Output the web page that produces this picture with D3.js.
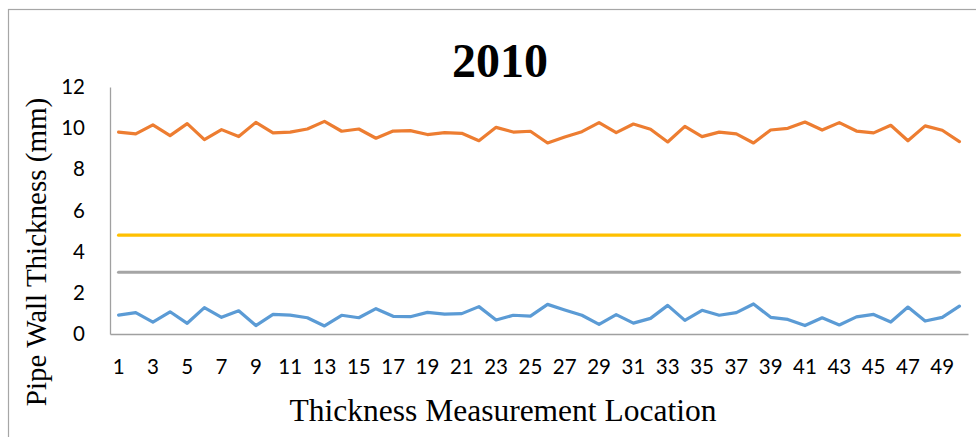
<!DOCTYPE html>
<html>
<head>
<meta charset="utf-8">
<script src="https://cdn.jsdelivr.net/npm/d3@7"></script>
<style>
  body { margin: 0; background: #fff; }
  svg { display: block; }
</style>
</head>
<body>
<svg id="chart"></svg>
<script>
const locations = d3.range(1, 51);
const nominal = [9.81, 9.72, 10.16, 9.64, 10.22, 9.44, 9.93, 9.59, 10.28, 9.77,
                 9.81, 9.96, 10.33, 9.85, 9.96, 9.51, 9.86, 9.88, 9.69, 9.78,
                 9.75, 9.39, 10.04, 9.81, 9.85, 9.28, 9.57, 9.83, 10.27, 9.78,
                 10.2, 9.95, 9.33, 10.09, 9.59, 9.81, 9.72, 9.28, 9.91, 9.99,
                 10.3, 9.91, 10.27, 9.86, 9.77, 10.14, 9.39, 10.11, 9.9, 9.35];
const loss = [0.92, 1.04, 0.58, 1.08, 0.52, 1.28, 0.81, 1.13, 0.41, 0.95,
              0.92, 0.79, 0.39, 0.91, 0.79, 1.23, 0.86, 0.84, 1.05, 0.97,
              0.99, 1.33, 0.68, 0.91, 0.87, 1.44, 1.17, 0.91, 0.47, 0.94,
              0.53, 0.76, 1.39, 0.66, 1.15, 0.91, 1.04, 1.46, 0.81, 0.71,
              0.41, 0.79, 0.44, 0.83, 0.95, 0.58, 1.31, 0.63, 0.81, 1.35];
const minLimit = locations.map(() => 3);
const warnLimit = locations.map(() => 4.8);
const yTicks = [0, 2, 4, 6, 8, 10, 12];

const series = [
  { name: "nominal", values: nominal, color: "#ED7D31" },
  { name: "warn", values: warnLimit, color: "#FFC000" },
  { name: "min", values: minLimit, color: "#A5A5A5" },
  { name: "loss", values: loss, color: "#5B9BD5" }
];

const width = 976, height = 437;
const margin = { left: 110, right: 8, top: 87, bottom: 103 };

const svg = d3.select("#chart").attr("width", width).attr("height", height);

// chart frame (cut off at right/bottom like the source image)
svg.append("rect")
  .attr("x", 8.5).attr("y", 9.5)
  .attr("width", 1000).attr("height", 500)
  .attr("fill", "none").attr("stroke", "#A6A6A6").attr("stroke-width", 1.2);

let x = d3.scaleBand().domain(locations).range([margin.left, width - margin.right]);
let y = d3.scaleLinear().domain([0, 12]).range([height - margin.bottom, margin.top]);

// axes
let xAxis = d3.axisBottom(x).tickSize(0).tickPadding(25)
  .tickFormat(d => d % 2 == 1 ? d : "");
let yAxis = d3.axisLeft(y).tickValues(yTicks).tickSize(0).tickPadding(25);

let gx = svg.append("g").attr("transform", "translate(0," + (height - margin.bottom) + ")").call(xAxis);
let gy = svg.append("g").attr("transform", "translate(" + margin.left + ",0)").call(yAxis);

[gx, gy].forEach(g => {
  g.select(".domain").attr("stroke", "#A0A0A0").attr("stroke-width", 1.3);
  g.selectAll("text").attr("font-family", "Lato, 'Open Sans', sans-serif")
    .attr("font-size", 20.5).attr("fill", "#000");
});

let line = d3.line()
  .x((d, i) => x(locations[i]) + x.bandwidth() / 2)
  .y(d => y(d));

svg.selectAll(".series")
  .data(series)
  .join("path")
  .attr("class", "series")
  .attr("d", d => line(d.values))
  .attr("fill", "none")
  .attr("stroke", d => d.color)
  .attr("stroke-width", 3.2)
  .attr("stroke-linejoin", "round")
  .attr("stroke-linecap", "round");

// titles
svg.append("text")
  .attr("x", 500).attr("y", 77)
  .attr("text-anchor", "middle")
  .attr("font-family", "'Liberation Serif', 'Times New Roman', serif")
  .attr("font-weight", "bold").attr("font-size", 48)
  .text("2010");

svg.append("text")
  .attr("x", 503).attr("y", 421)
  .attr("text-anchor", "middle")
  .attr("font-family", "'Liberation Serif', 'Times New Roman', serif")
  .attr("font-size", 31.5)
  .text("Thickness Measurement Location");

svg.append("text")
  .attr("transform", "translate(46,252) rotate(-90)")
  .attr("text-anchor", "middle")
  .attr("font-family", "'Liberation Serif', 'Times New Roman', serif")
  .attr("font-size", 29)
  .text("Pipe Wall Thickness (mm)");
</script>
</body>
</html>
